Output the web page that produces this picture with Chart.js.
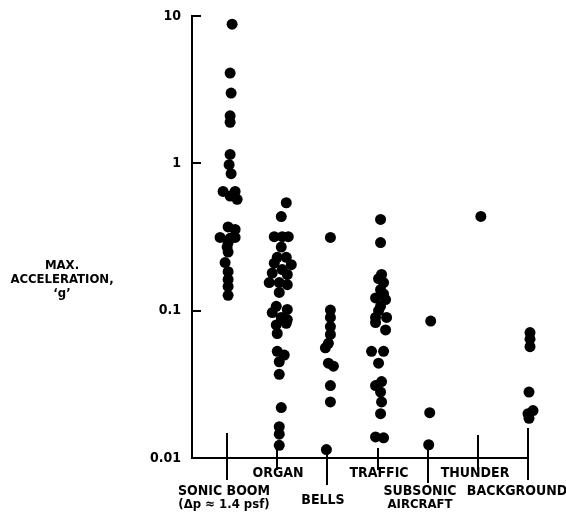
<!DOCTYPE html>
<html>
<head>
<meta charset="utf-8">
<script src="https://cdn.jsdelivr.net/npm/chart.js@4"></script>
<style>
  html, body { margin: 0; padding: 0; background: #fff; }
  #chart { display: block; }
</style>
</head>
<body>
<canvas id="chart" width="566" height="524"></canvas>
<script>
/* === Data === */
const CATEGORIES = [
  ['SONIC BOOM', '(\u0394p \u2248 1.4 psf)'],
  ['ORGAN'],
  ['BELLS'],
  ['TRAFFIC'],
  ['SUBSONIC', 'AIRCRAFT'],
  ['THUNDER'],
  ['BACKGROUND']
];

const Y_TICKS = [0.01, 0.1, 1, 10];
const Y_TICK_LABELS = ['0.01', '0.1', '1', '10'];
const Y_TITLE = ['MAX.', 'ACCELERATION,', '\u2018g\u2019'];

// max acceleration values per source, with small horizontal scatter
const sonicBoom   = [8.8, 4.1, 3.0, 2.1, 1.9, 1.15, 0.98, 0.85, 0.645, 0.645, 0.60, 0.57, 0.37, 0.356, 0.314, 0.314, 0.31, 0.29, 0.27, 0.25, 0.212, 0.184, 0.163, 0.146, 0.127];
const sonicBoomDx = [0.10, 0.06, 0.08, 0.06, 0.06, 0.06, 0.04, 0.08, -0.08, 0.16, 0.06, 0.20, 0.02, 0.16, -0.14, 0.16, 0.06, 0.02, 0.00, 0.02, -0.04, 0.02, 0.02, 0.02, 0.02];

const organ   = [0.54, 0.435, 0.318, 0.318, 0.318, 0.27, 0.23, 0.23, 0.21, 0.205, 0.19, 0.18, 0.176, 0.155, 0.155, 0.15, 0.133, 0.107, 0.102, 0.097, 0.09, 0.087, 0.082, 0.08, 0.07, 0.053, 0.05, 0.045, 0.037, 0.022, 0.0163, 0.0145, 0.0122];
const organDx = [0.18, 0.08, -0.06, 0.10, 0.22, 0.08, 0.00, 0.18, -0.06, 0.28, 0.10, -0.10, 0.20, -0.16, 0.04, 0.20, 0.04, -0.02, 0.20, -0.10, 0.08, 0.20, 0.18, -0.02, 0.00, 0.00, 0.14, 0.04, 0.04, 0.08, 0.04, 0.04, 0.04];

const bells   = [0.314, 0.101, 0.09, 0.078, 0.069, 0.06, 0.056, 0.044, 0.042, 0.031, 0.024, 0.0114];
const bellsDx = [0.06, 0.06, 0.06, 0.06, 0.06, 0.02, -0.04, 0.02, 0.12, 0.06, 0.06, -0.02];

const traffic   = [0.416, 0.29, 0.176, 0.165, 0.155, 0.139, 0.13, 0.122, 0.119, 0.107, 0.1, 0.09, 0.09, 0.083, 0.074, 0.053, 0.053, 0.044, 0.033, 0.031, 0.028, 0.024, 0.02, 0.0139, 0.0137];
const trafficDx = [0.06, 0.06, 0.08, 0.02, 0.12, 0.06, 0.12, -0.04, 0.16, 0.06, 0.02, -0.04, 0.18, -0.04, 0.16, -0.12, 0.12, 0.02, 0.08, -0.04, 0.06, 0.08, 0.06, -0.04, 0.12];

const subsonic   = [0.085, 0.0203, 0.0123];
const subsonicDx = [0.06, 0.04, 0.02];

const thunder   = [0.436];
const thunderDx = [0.06];

const background   = [0.071, 0.064, 0.057, 0.028, 0.021, 0.020, 0.0186];
const backgroundDx = [0.04, 0.04, 0.04, 0.02, 0.10, 0.00, 0.02];

const SERIES = [
  [sonicBoom, sonicBoomDx],
  [organ, organDx],
  [bells, bellsDx],
  [traffic, trafficDx],
  [subsonic, subsonicDx],
  [thunder, thunderDx],
  [background, backgroundDx]
];

/* === Styles === */
const FONT = '"Liberation Sans Narrow", "DejaVu Sans Condensed", "Arial Narrow", sans-serif';
// per category: label dx, label row offset below axis, tick length above / below
const LABEL_STYLE = [
  { dx: -3, dy: 33, up: 25, down: 22 },
  { dx: 1,  dy: 15, up: 12, down: 12 },
  { dx: -4, dy: 42, up: 6,  down: 27 },
  { dx: 1,  dy: 15, up: 10, down: 12 },
  { dx: -8, dy: 33, up: 10, down: 25 },
  { dx: -3, dy: 15, up: 23, down: 12 },
  { dx: -11, dy: 33, up: 30, down: 22 }
];

const points = [];
SERIES.forEach(([vals, dx], i) => {
  vals.forEach((v, j) => points.push({ x: i + dx[j], y: v }));
});

/* === Custom drawing: category ticks/labels, inward y ticks, y title === */
const decor = {
  id: 'decor',
  afterDraw(chart) {
    const { ctx, scales: { x, y } } = chart;
    const base = y.getPixelForValue(0.01);
    ctx.save();
    ctx.strokeStyle = '#000';
    ctx.fillStyle = '#000';
    ctx.lineWidth = 2;

    // inward ticks on y axis
    Y_TICKS.slice(1).forEach(v => {
      const py = Math.round(y.getPixelForValue(v));
      ctx.beginPath();
      ctx.moveTo(x.left, py);
      ctx.lineTo(x.left + 9, py);
      ctx.stroke();
    });

    // category ticks and labels
    ctx.textAlign = 'center';
    ctx.textBaseline = 'middle';
    CATEGORIES.forEach((lines, i) => {
      const s = LABEL_STYLE[i];
      const px = Math.round(x.getPixelForValue(i));
      ctx.beginPath();
      ctx.moveTo(px, base - s.up);
      ctx.lineTo(px, base + s.down);
      ctx.stroke();
      lines.forEach((t, k) => {
        ctx.font = (k === 0 ? 'bold 14px ' : 'bold 13px ') + FONT;
        ctx.fillText(t, px + s.dx, base + s.dy + k * 14);
      });
    });

    // y title
    ctx.font = 'bold 13px ' + FONT;
    Y_TITLE.forEach((t, k) => ctx.fillText(t, 62, 266 + k * 14));
    ctx.restore();
  }
};

/* === Chart === */
new Chart(document.getElementById('chart'), {
  type: 'scatter',
  data: {
    datasets: [{
      data: points,
      backgroundColor: '#000',
      borderWidth: 0,
      pointRadius: 5.5,
      pointHoverRadius: 5.5
    }]
  },
  options: {
    responsive: false,
    animation: false,
    clip: false,
    layout: { padding: { left: 132, right: 38, top: 16, bottom: 66 } },
    plugins: { legend: { display: false }, tooltip: { enabled: false } },
    scales: {
      x: {
        type: 'linear',
        min: -0.7,
        max: 6,
        grid: { display: false },
        border: { display: true, color: '#000', width: 2 },
        ticks: { display: false },
        afterFit: s => { s.height = 0; }
      },
      y: {
        type: 'logarithmic',
        min: 0.01,
        max: 10,
        grid: { display: false },
        border: { display: true, color: '#000', width: 2 },
        afterBuildTicks: s => { s.ticks = Y_TICKS.map(v => ({ value: v })); },
        afterFit: s => { s.width = 60; },
        ticks: {
          color: '#000',
          padding: 3,
          font: { family: FONT, size: 14, weight: 'bold' },
          callback: v => Y_TICK_LABELS[Y_TICKS.indexOf(v)]
        }
      }
    }
  },
  plugins: [decor]
});
</script>
</body>
</html>
